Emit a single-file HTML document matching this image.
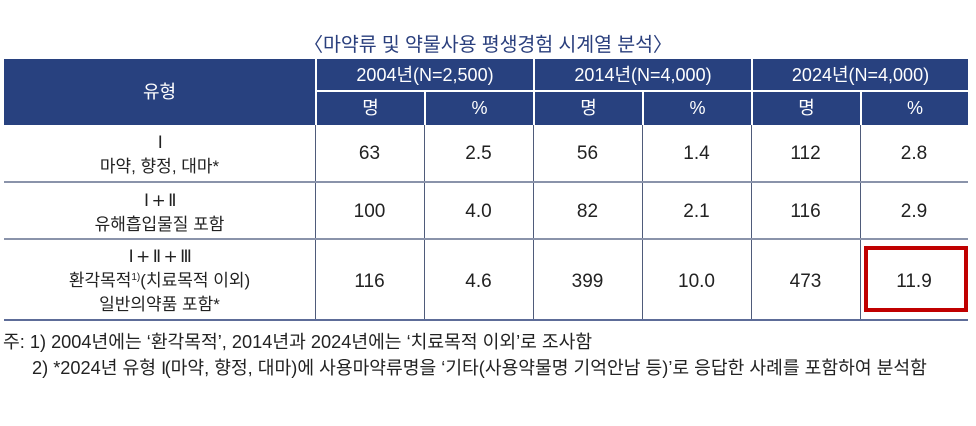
<!DOCTYPE html>
<html><head><meta charset="utf-8">
<style>
html,body{margin:0;padding:0;background:#fff;}
body{width:976px;height:426px;position:relative;overflow:hidden;font-family:"Liberation Sans","Noto Sans CJK KR",sans-serif;}
.a{position:absolute;}
.title{left:0;width:976px;top:32px;text-align:center;font-size:19.5px;line-height:26px;color:#2a3f7d;letter-spacing:-0.1px;}
.hbg{left:4px;top:59px;width:964px;height:66px;background:#28417f;}
.wv{background:#fff;width:2px;}
.wh{background:#fff;height:2px;}
.ht{color:#fff;text-align:center;font-size:18px;}
.bv{background:#4f5b7a;width:1px;top:125px;height:196px;}
.bh{background:#8a93aa;height:2px;left:4px;width:964px;}
.cell{text-align:center;color:#222;}
.num{font-size:19px;line-height:24px;}
.kt{font-size:17px;line-height:24px;}
.rn{font-family:"DejaVu Sans","Liberation Sans",sans-serif;font-size:17px;letter-spacing:-1.5px;}
.fn{font-size:18.2px;line-height:26px;color:#222;white-space:nowrap;}
sup{font-size:10px;vertical-align:6px;line-height:0;}
</style></head><body>
<div class="a title">〈마약류 및 약물사용 평생경험 시계열 분석〉</div>

<div class="a hbg"></div>
<div class="a wv" style="left:315px;top:59px;height:66px;"></div>
<div class="a wv" style="left:533px;top:59px;height:66px;"></div>
<div class="a wv" style="left:751px;top:59px;height:66px;"></div>
<div class="a wh" style="left:316px;top:90px;width:652px;"></div>
<div class="a wv" style="left:424px;top:91px;height:34px;"></div>
<div class="a wv" style="left:642px;top:91px;height:34px;"></div>
<div class="a wv" style="left:860px;top:91px;height:34px;"></div>

<div class="a ht" style="left:4px;width:311px;top:80px;line-height:24px;">유형</div>
<div class="a ht" style="left:317px;width:216px;top:63px;line-height:24px;">2004년(N=2,500)</div>
<div class="a ht" style="left:535px;width:216px;top:63px;line-height:24px;">2014년(N=4,000)</div>
<div class="a ht" style="left:753px;width:215px;top:63px;line-height:24px;">2024년(N=4,000)</div>

<div class="a ht" style="left:317px;width:107px;top:96px;line-height:24px;">명</div>
<div class="a ht" style="left:426px;width:107px;top:96px;line-height:24px;">%</div>
<div class="a ht" style="left:535px;width:107px;top:96px;line-height:24px;">명</div>
<div class="a ht" style="left:644px;width:107px;top:96px;line-height:24px;">%</div>
<div class="a ht" style="left:753px;width:107px;top:96px;line-height:24px;">명</div>
<div class="a ht" style="left:862px;width:106px;top:96px;line-height:24px;">%</div>

<div class="a bv" style="left:315px;"></div>
<div class="a bv" style="left:424px;"></div>
<div class="a bv" style="left:533px;"></div>
<div class="a bv" style="left:642px;"></div>
<div class="a bv" style="left:751px;"></div>
<div class="a bv" style="left:860px;"></div>
<div class="a bh" style="top:181px;"></div>
<div class="a bh" style="top:238px;"></div>
<div class="a bh" style="top:319px;background:#5d6c98;"></div>

<div class="a cell kt" style="left:4px;width:311px;top:131px;"><span class="rn">Ⅰ</span><br>마약, 향정, 대마*</div>
<div class="a cell num" style="left:315px;width:109px;top:142px;">63</div>
<div class="a cell num" style="left:424px;width:109px;top:142px;">2.5</div>
<div class="a cell num" style="left:533px;width:109px;top:142px;">56</div>
<div class="a cell num" style="left:642px;width:109px;top:142px;">1.4</div>
<div class="a cell num" style="left:751px;width:109px;top:142px;">112</div>
<div class="a cell num" style="left:860px;width:108px;top:142px;">2.8</div>

<div class="a cell kt" style="left:4px;width:311px;top:189px;"><span class="rn">Ⅰ + Ⅱ</span><br>유해흡입물질 포함</div>
<div class="a cell num" style="left:315px;width:109px;top:200px;">100</div>
<div class="a cell num" style="left:424px;width:109px;top:200px;">4.0</div>
<div class="a cell num" style="left:533px;width:109px;top:200px;">82</div>
<div class="a cell num" style="left:642px;width:109px;top:200px;">2.1</div>
<div class="a cell num" style="left:751px;width:109px;top:200px;">116</div>
<div class="a cell num" style="left:860px;width:108px;top:200px;">2.9</div>

<div class="a cell kt" style="left:4px;width:311px;top:245px;"><span class="rn">Ⅰ + Ⅱ + Ⅲ</span><br>환각목적<sup>1)</sup>(치료목적 이외)<br>일반의약품 포함*</div>
<div class="a cell num" style="left:315px;width:109px;top:270px;">116</div>
<div class="a cell num" style="left:424px;width:109px;top:270px;">4.6</div>
<div class="a cell num" style="left:533px;width:109px;top:270px;">399</div>
<div class="a cell num" style="left:642px;width:109px;top:270px;">10.0</div>
<div class="a cell num" style="left:751px;width:109px;top:270px;">473</div>
<div class="a cell num" style="left:860px;width:108px;top:270px;">11.9</div>

<div class="a" style="left:864px;top:246px;width:96px;height:58px;border:4px solid #c00000;"></div>

<div class="a fn" style="left:3px;top:329px;">주: 1) 2004년에는 ‘환각목적’, 2014년과 2024년에는 ‘치료목적 이외’로 조사함</div>
<div class="a fn" style="left:32px;top:355px;">2) *2024년 유형 <span class="rn">Ⅰ</span>(마약, 향정, 대마)에 사용마약류명을 ‘기타(사용약물명 기억안남 등)’로 응답한 사례를 포함하여 분석함</div>
</body></html>
